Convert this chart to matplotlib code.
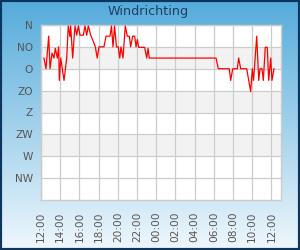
import matplotlib.pyplot as plt
import numpy as np

# hours since 12:00 on day one, wind direction in degrees (0 = N)
hours = [0.31, 0.52, 0.80, 0.94, 1.15, 1.35, 1.49, 1.70, 1.84, 1.91,
         2.05, 2.40, 2.68, 2.84, 3.02, 3.09, 3.30, 3.54, 3.72, 3.89,
         4.06, 4.41, 4.58, 4.76, 4.93, 5.18, 5.45, 5.66, 5.86, 6.04,
         6.56, 6.77, 7.19, 7.34, 7.50, 7.66, 7.86, 8.05, 8.20, 8.33,
         8.54, 8.78, 8.99, 9.20, 9.34, 9.55, 9.76, 9.90, 10.03, 10.18,
         10.80, 11.01, 11.15, 11.28, 18.23, 18.47, 19.61, 19.76, 19.97, 20.45,
         20.59, 20.80, 21.43, 21.64, 21.84, 22.01, 22.14, 22.47, 22.68, 22.81,
         23.02, 23.16, 23.36, 23.57, 23.72, 23.93, 24.06, 24.27]
degrees = [68, 90, 23, 90, 58, 68, 48, 68, 45, 114,
           68, 114, 68, 2, 24, 2, 68, 2, 21, 2,
           21, 21, 2, 21, 2, 21, 34, 45, 68, 45,
           45, 23, 23, 2, 45, 2, 45, 45, 68, 45,
           68, 2, 23, 23, 45, 23, 23, 45, 30, 46,
           46, 68, 48, 68, 68, 90, 90, 114, 90, 90,
           68, 90, 90, 114, 137, 90, 114, 23, 114, 90,
           90, 114, 46, 46, 114, 68, 114, 90]

tick_hours = list(range(0, 25, 2))
tick_labels = ["12:00", "14:00", "16:00", "18:00", "20:00", "22:00", "00:00",
               "02:00", "04:00", "06:00", "08:00", "10:00", "12:00"]
dir_ticks = [0, 45, 90, 135, 180, 225, 270, 315]
dir_labels = ["N", "NO", "O", "ZO", "Z", "ZW", "W", "NW"]

fig = plt.figure(figsize=(3, 2.5), dpi=100)

# blue gradient background
bg = fig.add_axes([0, 0, 1, 1], zorder=0)
top = np.array([0x55, 0xAB, 0xDB]) / 255
bot = np.array([0xEF, 0xF7, 0xFC]) / 255
t = np.linspace(0, 1, 256)[:, None]
grad = top * (1 - t) + bot * t
bg.imshow(grad[:, None, :], aspect="auto", extent=[0, 1, 0, 1])
bg.set_xlim(0, 1)
bg.set_ylim(0, 1)
bg.axis("off")
bg.add_patch(plt.Rectangle((0, 0), 1, 1, transform=bg.transAxes, fill=False,
                           edgecolor="#0c3560", lw=3, clip_on=False))

fig.text(0.495, 0.955, "Windrichting", ha="center", va="center",
         fontsize=9.2, color="#1b3f63")

ax = fig.add_axes([41 / 300, 0.2, 0.8, 0.7], zorder=1)
ax.set_facecolor("white")
for lo in (45, 135, 225):
    ax.axhspan(lo, lo + 45, color="#f2f2f2", lw=0, zorder=0)
ax.plot(hours, degrees, color="#ff0000", lw=0.9, zorder=3)

ax.set_xlim(0, 25)
ax.set_ylim(360, 0)
ax.set_xticks(tick_hours)
ax.set_xticklabels(tick_labels, rotation=90)
ax.set_yticks(dir_ticks)
ax.set_yticklabels(dir_labels)
ax.grid(True, color="#cccccc", lw=0.9, zorder=1)
ax.set_axisbelow(True)
ax.tick_params(length=0, labelsize=7.6, colors="#555555")
ax.tick_params(axis="x", pad=8.5)
ax.tick_params(axis="y", pad=6)
for s in ax.spines.values():
    s.set_color("#cccccc")
    s.set_linewidth(1)

fig.savefig("out.png", dpi=100)
